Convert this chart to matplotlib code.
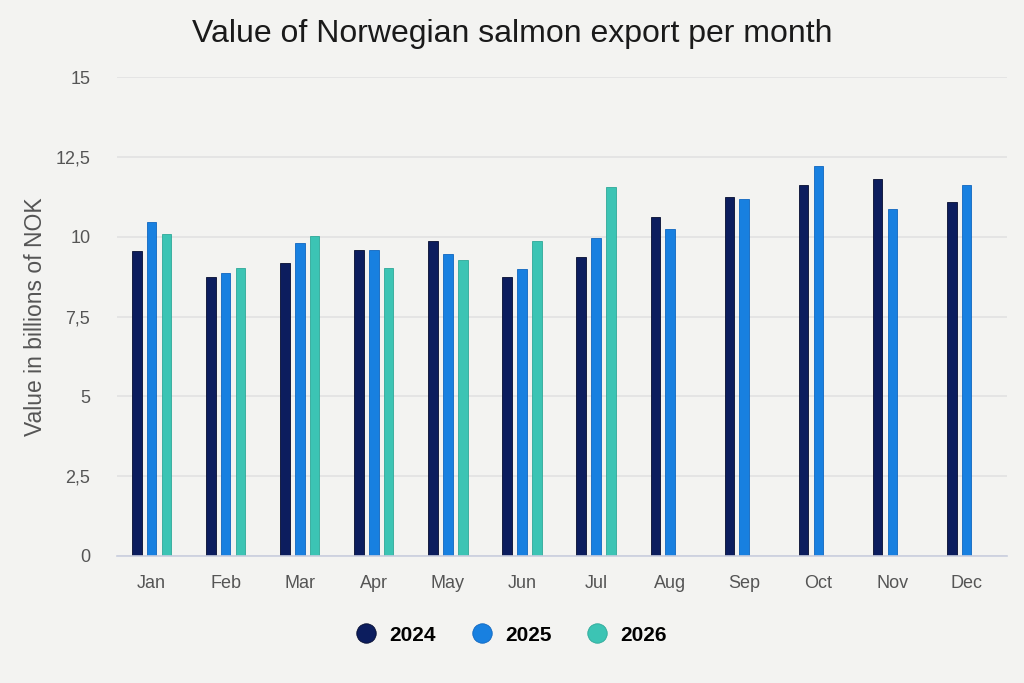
import numpy as np
import matplotlib.pyplot as plt
from matplotlib.lines import Line2D

months = ['Jan', 'Feb', 'Mar', 'Apr', 'May', 'Jun', 'Jul', 'Aug', 'Sep', 'Oct', 'Nov', 'Dec']
years = ['2024', '2025', '2026']

# values, billions of NOK
v2024 = [9.54, 8.75, 9.17, 9.60, 9.86, 8.75, 9.38, 10.61, 11.25, 11.63, 11.80, 11.09]
v2025 = [10.45, 8.85, 9.81, 9.60, 9.45, 9.00, 9.96, 10.23, 11.20, 12.22, 10.88, 11.63]
v2026 = [10.08, 9.01, 10.03, 9.01, 9.28, 9.86, 11.57, np.nan, np.nan, np.nan, np.nan, np.nan]

yticks = [0, 2.5, 5, 7.5, 10, 12.5, 15]
ytick_labels = ['0', '2,5', '5', '7,5', '10', '12,5', '15']

colors = ['#0c1d5e', '#1880e0', '#3cc4b4']
edges = ['#050d30', '#0f66bf', '#2ea898']
bg = '#f3f3f1'

plt.rcParams['font.family'] = ['Liberation Sans', 'DejaVu Sans']

fig = plt.figure(figsize=(10.24, 6.83), dpi=100, facecolor=bg)
ax = fig.add_axes([0.114, 0.1864, 0.869, 0.7004], facecolor=bg)

x = np.arange(len(months))
width = 0.13
offsets = [-0.2, 0.0, 0.2]
for vals, off, c, ec in zip([v2024, v2025, v2026], offsets, colors, edges):
    ax.bar(x + off, vals, width, color=c, edgecolor=ec, linewidth=0.6, zorder=3)

ax.set_xlim(-0.47, 11.54)
ax.set_ylim(0, 15)
ax.set_yticks(yticks)
ax.set_yticklabels(ytick_labels)
ax.set_xticks(x)
ax.set_xticklabels(months)
ax.tick_params(axis='both', length=0, labelsize=13, labelcolor='#555555')
ax.tick_params(axis='x', pad=14)
ax.tick_params(axis='y', pad=19)

ax.grid(axis='y', color='#e2e2e2', linewidth=1.2, zorder=0)
for s in ['top', 'right', 'left']:
    ax.spines[s].set_visible(False)
ax.spines['bottom'].set_color('#c9cede')
ax.spines['bottom'].set_linewidth(1.2)
ax.spines['bottom'].set_zorder(4)

ax.set_ylabel('Value in billions of NOK', fontsize=16.5, color='#555555', labelpad=6)
fig.suptitle('Value of Norwegian salmon export per month', fontsize=23,
             color='#1a1a1a', y=0.972)

handles = [Line2D([], [], marker='o', ls='', markersize=14, markerfacecolor=c,
                  markeredgecolor=ec, markeredgewidth=0.6) for c, ec in zip(colors, edges)]
leg = fig.legend(handles, years, loc='center', bbox_to_anchor=(0.497, 0.07), ncol=3,
                 frameon=False, handlelength=1.5, handletextpad=0.36, columnspacing=1.45,
                 prop={'weight': 'bold', 'size': 15})

fig.savefig('out.png', dpi=100, facecolor=bg)
